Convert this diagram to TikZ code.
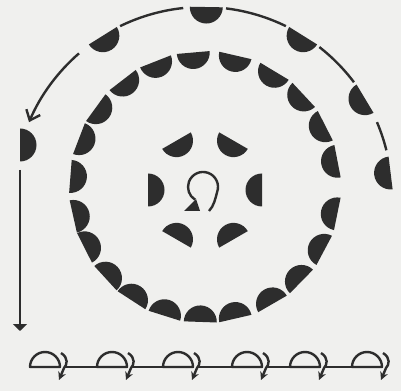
\documentclass[tikz,border=0pt]{standalone}
\usepackage{tikz}
\usetikzlibrary{arrows.meta}
\usepackage{xcolor}
\definecolor{ink}{RGB}{45, 45, 45}
\definecolor{paper}{RGB}{240, 240, 238}
% half disc: centre of ring, outward angle, distance of the flat side
\newcommand{\hemi}[3]{%
  \fill[ink] #1 ++(#2:#3) ++({#2+90}:16.5) arc[start angle={#2+90}, end angle={#2+270}, radius=16.5] -- cycle;}

\begin{document}
\begin{tikzpicture}[x=1pt, y=1pt, >=Latex,
    trail/.style={draw=ink, line width=2.4pt},
    glyph/.style={draw=ink, line width=2.4pt, line join=round}]
    \useasboundingbox[fill=paper] (0,0) rectangle (401,391);
    % ring of half discs
    \foreach \a in {11,27,43,59,77,95,111.5,127.6,144,159,175.5,192.6,206.8,222.5,237,252.5,268,283,300,315.6,332,348.5}
      \hemi{(205,204)}{\a}{135};
    % six round the middle
    \foreach \a in {0,60,...,300}
      \hemi{(205,201)}{\a}{57};
    % outer path
    \foreach \a in {7,31,58,89,122}
      \hemi{(203,195)}{\a}{189};
    \foreach \s/\e in {14/23,37/52,64/83,96/116}
      \draw[trail] (203,195) ++(\s:189) arc[start angle=\s, end angle=\e, radius=189];
    \draw[trail, -{Straight Barb[length=9pt,width=15pt]}] (203,195) ++(131:189) arc[start angle=131, end angle=157, radius=189];
    \hemi{(20,246)}{180}{0};
    \draw[trail, -{Triangle[length=7pt,width=14pt]}] (20,221) -- (20,60);
    % turning sign
    \draw[glyph] (209,180) .. controls (214,185) and (215.5,193) .. (217.1,198.9) arc[start angle=-20, end angle=238, radius=15];
    \fill[ink] (196,192) -- (184,180) -- (200,180) -- cycle;
    % bottom row
    \foreach \c in {45,112,178,247,305,367} {
      \draw[glyph] (\c-15,24) -- (\c+15,24) arc[start angle=0, end angle=180, radius=15] -- cycle;
      \draw[glyph, -{Stealth[length=8pt,width=8pt]}] (\c+16,38) .. controls (\c+24,33) and (\c+22,26) .. (\c+19,23) -- (\c+14,11);
    }
    \foreach \c/\n in {45/112,112/178,178/247,247/305,305/367}
      \draw[glyph] (\c+19,24) -- (\n-15,24);
  \end{tikzpicture}
\end{document}
